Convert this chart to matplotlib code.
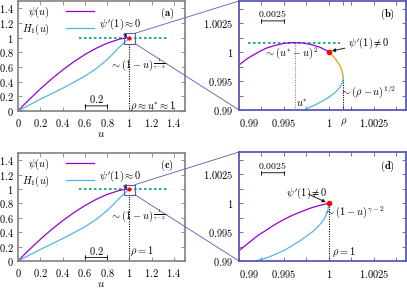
import matplotlib
matplotlib.use('Agg')
import matplotlib.pyplot as plt
from matplotlib.patches import Rectangle, ConnectionPatch

plt.rcParams['mathtext.fontset'] = 'cm'
plt.rcParams['font.family'] = 'serif'
plt.rcParams['font.size'] = 7.5

PURPLE = '#9400d3'
BLUE = '#56b4e9'
GREEN = '#009e73'
ORANGE = '#e69f00'
GRAY = '#808080'
SLATE = '#5a5ab4'

# main panels (a), (c): psi(u) and H1(u)
u_main = [0.0, 0.05, 0.1, 0.2, 0.3, 0.4, 0.5, 0.6, 0.7, 0.8, 0.9, 0.95, 1.0]
psi_main = [0.0, 0.079, 0.155, 0.300, 0.435, 0.558, 0.670, 0.769, 0.854, 0.924, 0.975, 0.992, 1.0]
h1_u = [0.0, 0.1, 0.2, 0.3, 0.4, 0.5, 0.6, 0.7, 0.8, 0.85, 0.9, 0.95, 0.98, 1.0]
h1_a = [0.0, 0.08, 0.16, 0.235, 0.31, 0.39, 0.475, 0.575, 0.70, 0.775, 0.855, 0.93, 0.965, 0.99]
h1_c = [0.0, 0.08, 0.16, 0.235, 0.31, 0.39, 0.475, 0.575, 0.70, 0.775, 0.855, 0.93, 0.97, 1.0]

# zoom panel (b)
psi_b_u = [0.990, 0.991, 0.992, 0.993, 0.994, 0.995, 0.996, 0.997, 0.998, 0.999, 1.0]
psi_b = [0.9978, 0.9990, 0.9999, 1.0007, 1.0012, 1.00155, 1.0017, 1.00164, 1.00137, 1.0009, 1.0001]
orange_b_u = [1.0, 1.00067, 1.00113, 1.00143, 1.00158, 1.0016]
orange_b = [1.0001, 0.999, 0.998, 0.997, 0.996, 0.9955]
h1_b_u = [1.0016, 1.00156, 1.00127, 1.00069, 0.99981, 0.99864, 0.99718]
h1_b = [0.9955, 0.995, 0.994, 0.993, 0.992, 0.991, 0.990]
u_star = 0.9962
psi_star = 1.0017
rho_b = 1.0016

# zoom panel (d)
psi_d_u = [0.990, 0.992, 0.994, 0.995, 0.996, 0.997, 0.998, 0.999, 1.0]
psi_d = [0.9918, 0.9943, 0.99633, 0.9972, 0.99797, 0.9986, 0.99919, 0.99965, 1.0]
h1_d_u = [0.99185, 0.9932, 0.995, 0.9968, 0.9983, 0.9990, 0.9995, 0.9999, 1.0]
h1_d = [0.99, 0.9906, 0.9918, 0.9935, 0.9952, 0.9963, 0.9973, 0.9988, 1.0]

main_ticks = [0, 0.2, 0.4, 0.6, 0.8, 1, 1.2, 1.4]
main_labels = ['0', '0.2', '0.4', '0.6', '0.8', '1', '1.2', '1.4']
zoom_yticks = [0.99, 0.995, 1.0, 1.005]
zoom_ylabels = ['0.99', '0.995', '1', '1.0025']
zoom_minor = [0.9925, 0.9975, 1.0025, 1.0075]

W, H = 407, 288
fig = plt.figure(figsize=(W / 100, H / 100), dpi=100)


def box(l, t, r, b):
    return [l / W, 1 - b / H, (r - l) / W, (b - t) / H]


ax_a = fig.add_axes(box(18, 1, 185, 111))
ax_b = fig.add_axes(box(239, 1, 406, 110))
ax_c = fig.add_axes(box(18, 153, 185, 261))
ax_d = fig.add_axes(box(239, 152, 406, 261))


def math(labels):
    return ['$%s$' % s for s in labels]


def style_main(ax):
    ax.set_xlim(0, 1.5)
    ax.set_ylim(0, 1.5)
    ax.set_xticks(main_ticks)
    ax.set_xticklabels(math(main_labels))
    ax.set_yticks(main_ticks)
    ax.set_yticklabels(math(main_labels))
    ax.tick_params(direction='in', top=True, right=True, length=3, width=0.6,
                   color=GRAY, labelsize=7.5, pad=4)
    ax.tick_params(axis='y', pad=3)
    for s in ax.spines.values():
        s.set_color(GRAY)
        s.set_linewidth(1.2)
    ax.set_xlabel('$u$', fontsize=8, labelpad=0)


def style_zoom(ax, xt, xl):
    ax.set_xlim(0.99, 1.0086)
    ax.set_ylim(0.99, 1.0089)
    ax.set_xticks(xt)
    ax.set_xticklabels(math(xl))
    ax.set_xticks(zoom_minor, minor=True)
    ax.set_yticks(zoom_yticks)
    ax.set_yticklabels(math(zoom_ylabels))
    ax.set_yticks(zoom_minor, minor=True)
    ax.tick_params(which='both', direction='in', top=True, right=True, width=0.6,
                   color=SLATE, labelsize=7.5, length=3)
    ax.tick_params(axis='x', pad=5)
    ax.tick_params(axis='y', pad=4)
    ax.get_xticklabels()[0].set_ha('left')
    for s in ax.spines.values():
        s.set_color(SLATE)
        s.set_linewidth(1.3)


def main_panel(ax, h1, tag, rho_text, rho_y, bar_y):
    ax.hlines(1.0, 0.55, 1.35, colors=GREEN, linestyles=(0, (1.5, 1.5)), lw=1.2)
    ax.plot(u_main, psi_main, color=PURPLE, lw=0.9, label=r'$\psi(u)$')
    ax.plot(h1_u, h1, color=BLUE, lw=0.9, label=r'$H_1(u)$')
    ax.vlines(1.0, 0, 0.92, colors='black', linestyles=(0, (1, 1.2)), lw=0.8)
    ax.add_patch(Rectangle((0.95, 0.92), 0.10, 0.14, fill=False, ec=SLATE, lw=0.8, zorder=4))
    ax.plot([1.0], [1.0], 'o', color='red', ms=2, zorder=5)
    ax.legend(loc='upper left', frameon=False, markerfirst=False, handlelength=2.7,
              handletextpad=1.6, borderpad=0.1, borderaxespad=0.25, labelspacing=0.15,
              fontsize=7.5)
    ax.annotate(r"$\psi'(1)\approx 0$", xy=(0.975, 1.005), xytext=(0.92, 1.18),
                ha='center', va='center', fontsize=7.5,
                arrowprops=dict(arrowstyle='-|>', lw=0.6, color='black',
                                mutation_scale=5, shrinkA=1, shrinkB=0))
    ax.text(0.83, 0.63, r'$\sim(1-u)^{\frac{1}{\gamma-2}}$', fontsize=7.5, va='center')
    ax.text(1.01, rho_y, rho_text, fontsize=7.5, va='center')
    ax.annotate('', xy=(0.6, bar_y), xytext=(0.8, bar_y),
                arrowprops=dict(arrowstyle='|-|', lw=0.6, mutation_scale=1.5,
                                shrinkA=0, shrinkB=0))
    ax.text(0.7, bar_y + 0.09, '$0.2$', ha='center', va='center', fontsize=7.5)
    ax.text(1.34, 1.33, r'$\mathbf{(%s)}$' % tag, ha='center', va='center', fontsize=7.5)
    style_main(ax)


main_panel(ax_a, h1_a, 'a', r'$\rho\approx u^{*}\approx 1$', 0.07, 0.07)
main_panel(ax_c, h1_c, 'c', r'$\rho=1$', 0.14, 0.05)

# panel (b)
ax_b.hlines(psi_star, 0.9910, 1.0013, colors=GREEN, linestyles=(0, (1.5, 1.5)), lw=1.2)
ax_b.vlines(u_star, 0.99, psi_star, colors='#888888', linestyles=(0, (1, 1.2)), lw=0.8)
ax_b.vlines(rho_b, 0.99, 0.9955, colors='black', linestyles=(0, (1, 1.2)), lw=0.8)
ax_b.plot(psi_b_u, psi_b, color=PURPLE, lw=0.9)
ax_b.plot(orange_b_u, orange_b, color=ORANGE, lw=0.9)
ax_b.plot(h1_b_u, h1_b, color=BLUE, lw=0.9)
ax_b.plot([1.0], [1.0001], 'o', color='red', ms=3, zorder=5)
ax_b.annotate(r"$\psi'(1)\neq 0$", xy=(1.0002, 1.0002), xytext=(1.0021, 1.0016),
              ha='left', va='center', fontsize=7.5,
              arrowprops=dict(arrowstyle='-|>', lw=0.6, color='black',
                              mutation_scale=5, shrinkA=0, shrinkB=1))
ax_b.text(0.9958, 0.99985, r'$\sim(u^{*}-u)^{2}$', ha='center', va='center', fontsize=7.5)
ax_b.text(u_star + 0.0001, 0.9912, r'$u^{*}$', ha='left', va='center', fontsize=7.5)
ax_b.text(1.0012, 0.9932, r'$\sim(\rho-u)^{1/2}$', ha='left', va='center', fontsize=7.5)
ax_b.annotate('', xy=(0.9925, 1.00545), xytext=(0.995, 1.00545),
              arrowprops=dict(arrowstyle='|-|', lw=0.6, mutation_scale=1.5,
                              shrinkA=0, shrinkB=0))
ax_b.text(0.99375, 1.0068, '$0.0025$', ha='center', va='center', fontsize=7)
ax_b.text(1.0065, 1.0066, r'$\mathbf{(b)}$', ha='center', va='center', fontsize=7.5)
style_zoom(ax_b, [0.99, 0.995, 1.0, rho_b, 1.005], ['0.99', '0.995', '1', r'\rho', '1.0025'])

# panel (d)
ax_d.vlines(1.0, 0.99, 1.0, colors='black', linestyles=(0, (1, 1.2)), lw=0.8)
ax_d.plot(psi_d_u, psi_d, color=PURPLE, lw=0.9)
ax_d.plot(h1_d_u, h1_d, color=BLUE, lw=0.9)
ax_d.plot([1.0], [1.0], 'o', color='red', ms=3, zorder=5)
ax_d.annotate(r"$\psi'(1)\neq 0$", xy=(0.9998, 1.0001), xytext=(0.9976, 1.0017),
              ha='center', va='center', fontsize=7.5,
              arrowprops=dict(arrowstyle='-|>', lw=0.6, color='black',
                              mutation_scale=5, shrinkA=1, shrinkB=1))
ax_d.text(0.99945, 0.9984, r'$\sim(1-u)^{\gamma-2}$', ha='left', va='center', fontsize=7.5)
ax_d.text(1.0004, 0.9915, r'$\rho=1$', ha='left', va='center', fontsize=7.5)
ax_d.annotate('', xy=(0.9925, 1.0053), xytext=(0.995, 1.0053),
              arrowprops=dict(arrowstyle='|-|', lw=0.6, mutation_scale=1.5,
                              shrinkA=0, shrinkB=0))
ax_d.text(0.99375, 1.00655, '$0.0025$', ha='center', va='center', fontsize=7)
ax_d.text(1.0065, 1.0064, r'$\mathbf{(d)}$', ha='center', va='center', fontsize=7.5)
style_zoom(ax_d, [0.99, 0.995, 1.0, 1.005], ['0.99', '0.995', '1', '1.0025'])

# zoom connectors
for src, dst in [(ax_a, ax_b), (ax_c, ax_d)]:
    for corner, target in [((1.05, 1.06), (0, 1)), ((1.05, 0.92), (0, 0))]:
        con = ConnectionPatch(xyA=corner, coordsA=src.transData, xyB=target,
                              coordsB=dst.transAxes, color=SLATE, lw=0.6)
        fig.add_artist(con)

fig.savefig('out.png', dpi=100)
